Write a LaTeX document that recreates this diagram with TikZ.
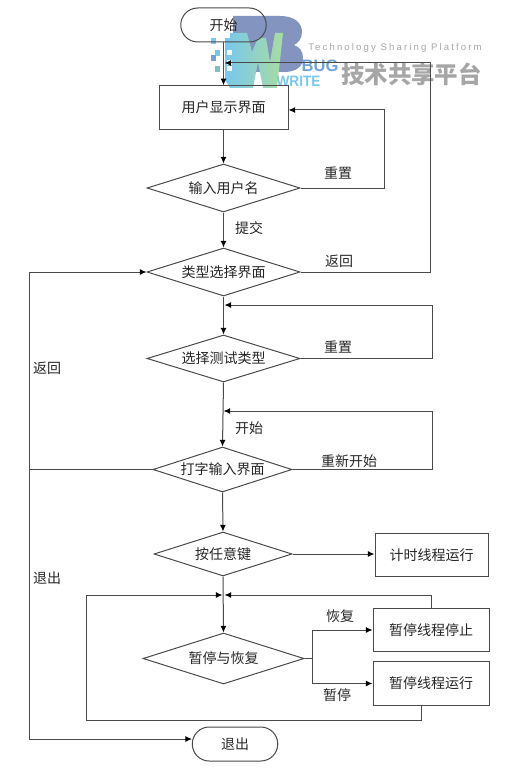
\documentclass[tikz,border=0pt]{standalone}
\usepackage{fontspec}
\setmainfont{Noto Sans CJK SC}
\newfontfamily\latinsans{Liberation Sans}
\newfontfamily\spacedsans[LetterSpace=22]{Liberation Sans}
\usetikzlibrary{arrows.meta,shapes.geometric}
\definecolor{linegray}{HTML}{4A4A4A}
\definecolor{wmgray}{HTML}{A6A6A6}
\definecolor{wmblue}{HTML}{6FA2DA}
\definecolor{wmsky}{HTML}{78C8EE}
\definecolor{wmslate}{HTML}{7488B8}
\definecolor{wmgreen}{HTML}{A8DCA0}
\tikzset{
  every node/.style={font=\fontsize{10.5}{12}\selectfont,text=black!85},
  flowrect/.style={draw=linegray,line width=0.75pt,minimum width=#1*0.75pt,minimum height=43.5*0.75pt,inner sep=0pt},
  flowdia/.style n args={2}{draw=linegray,line width=0.75pt,diamond,aspect=3,inner sep=0pt,minimum width=#1*0.75pt,minimum height=#2*0.75pt},
  flowend/.style={draw=linegray,line width=0.75pt,rounded corners=17*0.75pt,minimum width=85.5*0.75pt,minimum height=34*0.75pt,inner sep=0pt},
  conn/.style={draw=linegray,line width=0.75pt},
  wmsquare/.style={fill=#1,draw=none}
}
\begin{document}
\begin{tikzpicture}[x=0.75pt,y=-0.75pt,>={Latex[length=5pt,width=4.5pt,color=black]}]
\useasboundingbox (0,0) rectangle (514,770);
% watermark first, the chart lies over it
\fill[wmslate,opacity=0.9] (233,16) -- (280,16) .. controls (296,16) and (302,24) .. (302,32) .. controls (302,39) and (298,43) .. (294,45) .. controls (300,47) and (303,52) .. (303,58) .. controls (303,66) and (297,72) .. (284,72) -- (233,72) -- cycle;
\shade[left color=wmsky,middle color=wmsky,right color=wmgreen] (225,33) -- (247,33) -- (252,52) -- (258,38) -- (266,38) -- (270,62) -- (275,33) -- (283,33) -- (277,88) -- (263,88) -- (258,62) -- (253,88) -- (230,88) -- (225,80) -- cycle;
\foreach \px/\py/\wmcol in {211/38/wmsky,215/50/wmsky,211/55/wmblue,215/66/teal!50}
  \fill[wmsquare=\wmcol] (\px,\py) rectangle ++(5,6);
\foreach \px/\py in {225/33,227/50,227/60,227/66}
  \fill[wmsquare=white] (\px,\py) rectangle ++(5,5);
\node[font=\latinsans\bfseries\fontsize{12.4}{14}\selectfont,text=wmblue,inner sep=0pt] (wmbug) at (320,66) {BUG};
\node[font=\latinsans\bfseries\fontsize{11.3}{13}\selectfont,text=wmsky,inner sep=0pt,xscale=0.9] (wmwrite) at (298.5,81.5) {WRITE};
\node[font=\spacedsans\fontsize{7.2}{8}\selectfont,text=wmgray,inner sep=0pt] (wmtech) at (395,48.5) {Technology Sharing Platform};
\node[font=\bfseries\fontsize{17.6}{20}\selectfont,text=wmgray,inner sep=0pt] (wmcn) at (411.5,74.5) {技术共享平台};
\node[flowend] (start) at (223.5,25) {开始};
\node[flowrect=129] (usershow) at (223.5,107.5) {用户显示界面};
\node[flowdia={153}{48}] (username) at (223.5,188) {输入用户名};
\node[flowdia={153}{48}] (typesel) at (223.5,272) {类型选择界面};
\node[flowdia={153}{47}] (testtype) at (223.5,358.5) {选择测试类型};
\node[flowdia={139}{45}] (typing) at (222.5,469.5) {打字输入界面};
\node[flowdia={138}{44}] (anykey) at (223,554) {按任意键};
\node[flowdia={161}{51}] (pause) at (223.5,658.5) {暂停与恢复};
\node[flowrect=113] (timer) at (431.5,555) {计时线程运行};
\node[flowrect=116] (pausestop) at (431,630) {暂停线程停止};
\node[flowrect=116] (pauserun) at (431,683.5) {暂停线程运行};
\node[flowend] (quit) at (235,744) {退出};
\node (lblreset) at (338,173) {重置};
\node (lblsubmit) at (249,228) {提交};
\node (lblback) at (339,261) {返回};
\node (lblreset2) at (338,347) {重置};
\node (lblbegin) at (249,428) {开始};
\node (lblrestart) at (349,461) {重新开始};
\node (lblback2) at (47,368) {返回};
\node (lblexit) at (47,578) {退出};
\node (lblresume) at (340,616) {恢复};
\node (lblhold) at (337,695) {暂停};
\coordinate (topjoin) at (224.5,63);
\coordinate (topcorner) at (430,63);
\coordinate (resetcorner) at (384,110);
\coordinate (testjoin) at (224.5,305);
\coordinate (testcorner) at (432,305);
\coordinate (typejoin) at (223.5,411);
\coordinate (typecorner) at (432,411);
\coordinate (leftbus) at (29,469.5);
\coordinate (pausejoinR) at (224.5,595);
\coordinate (pausejoinL) at (222.5,595);
\coordinate (stopcorner) at (431,595);
\coordinate (runcorner) at (421,720);
\coordinate (runleft) at (86,720);
\coordinate (runup) at (86,595);
\coordinate (splitpause) at (312,658.5);
\coordinate (quitentry) at (192,739);
\draw[conn,->] (start.south) -- (usershow.north);
\draw[conn,->] (usershow.south) -- (username.north);
\draw[conn,->] (username.south) -- (typesel.north);
\draw[conn,->] (typesel.south) -- (testtype.north);
\draw[conn,->] (testtype.south) -- (typing.north);
\draw[conn,->] (typing.south) -- (anykey.north);
\draw[conn,->] (anykey.south) -- (pause.north);
\draw[conn,->] (anykey.east) -- (anykey.east -| timer.west);
\draw[conn,->] (typesel.east) -| (topcorner) -- (topjoin);
\draw[conn,->] (username.east) -| (resetcorner) -- (resetcorner -| usershow.east);
\draw[conn,->] (testtype.east) -| (testcorner) -- (testjoin);
\draw[conn,->] (typing.east) -| (typecorner) -- (typejoin);
\draw[conn,->] (typing.west) -- (leftbus) |- (typesel.west);
\draw[conn,->] (leftbus) |- (quitentry);
\draw[conn,->] (pausestop.north) -- (stopcorner) -- (pausejoinR);
\draw[conn,->] (pauserun.south -| runcorner) -- (runcorner) -- (runleft) -- (runup) -- (pausejoinL);
\draw[conn] (pause.east) -- (splitpause);
\draw[conn,->] (splitpause) |- (pausestop.west);
\draw[conn,->] (splitpause) |- (pauserun.west);
\end{tikzpicture}
\end{document}
